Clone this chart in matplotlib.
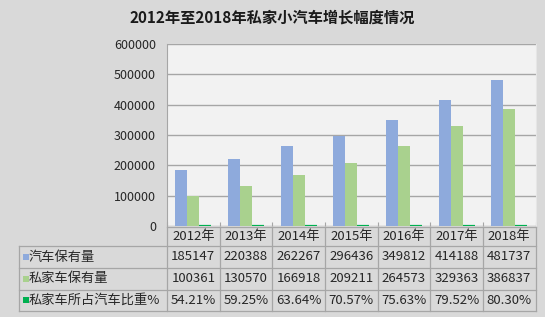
import matplotlib
matplotlib.use("Agg")
import matplotlib.pyplot as plt
import numpy as np
from matplotlib.lines import Line2D
from matplotlib.patches import Rectangle

plt.rcParams['font.family'] = ['Noto Sans CJK SC', 'DejaVu Sans']

title = "2012年至2018年私家小汽车增长幅度情况"
years = ["2012年", "2013年", "2014年", "2015年", "2016年", "2017年", "2018年"]
series_names = ["汽车保有量", "私家车保有量", "私家车所占汽车比重%"]
cars = [185147, 220388, 262267, 296436, 349812, 414188, 481737]
private_cars = [100361, 130570, 166918, 209211, 264573, 329363, 386837]
private_share = [54.21, 59.25, 63.64, 70.57, 75.63, 79.52, 80.30]
yticks = [0, 100000, 200000, 300000, 400000, 500000, 600000]

colors = ["#8eaadc", "#a9d18e", "#00b050"]

W, H = 545, 317
fig = plt.figure(figsize=(W / 100, H / 100), dpi=100)
fig.patch.set_facecolor("#d9d9d9")

def fx(px):
    return px / W

def fy(py):
    return 1 - py / H

ax_l, ax_r, ax_t, ax_b = 167, 535.5, 44, 226
ax = fig.add_axes([fx(ax_l), fy(ax_b), fx(ax_r - ax_l), (ax_b - ax_t) / H])
ax.set_facecolor("#f2f2f2")

n = len(years)
x = np.arange(n)
bw = 0.228
ax.bar(x - bw, cars, width=bw, color=colors[0], zorder=3)
ax.bar(x, private_cars, width=bw, color=colors[1], zorder=3)
ax.bar(x + bw, private_share, width=bw, color=colors[2], edgecolor=colors[2],
       linewidth=1.6, zorder=3)

ax.set_xlim(-0.5, n - 0.5)
ax.set_ylim(0, 600000)
ax.set_yticks(yticks)
ax.set_yticklabels([str(v) for v in yticks], fontsize=9, color="#262626")
ax.tick_params(axis='y', length=0, pad=8)
ax.set_xticks(np.arange(n + 1) - 0.5)
ax.set_xticklabels([])
ax.tick_params(axis='x', direction='in', length=3, color="#a6a6a6")
ax.grid(axis='y', color="#a6a6a6", linewidth=1, zorder=0)
for s in ["top", "bottom"]:
    ax.spines[s].set_visible(False)
ax.spines["left"].set_color("#a6a6a6")
ax.spines["right"].set_color("#e6e6e6")

fig.text(0.5, fy(18), title, ha='center', va='center', fontsize=11,
         fontweight='bold', color="#1a1a1a")

# data table
line_c = "#a6a6a6"
tbl_left = 18.5
col_w = (ax_r - ax_l) / n
rows_y = [226.5, 246, 268, 289.5, 311]

def hline(x0, x1, y):
    fig.add_artist(Line2D([fx(x0), fx(x1)], [fy(y), fy(y)], color=line_c, lw=0.9))

def vline(x0, y0, y1):
    fig.add_artist(Line2D([fx(x0), fx(x0)], [fy(y0), fy(y1)], color=line_c, lw=0.9))

hline(ax_l, ax_r, rows_y[0])
for y in rows_y[1:]:
    hline(tbl_left, ax_r, y)
vline(tbl_left, rows_y[1], rows_y[-1])
for i in range(n + 1):
    vline(ax_l + i * col_w, rows_y[0], rows_y[-1])

txt_c = "#262626"
for i, yr in enumerate(years):
    fig.text(fx(ax_l + (i + 0.5) * col_w), fy((rows_y[0] + rows_y[1]) / 2), yr,
             ha='center', va='center', fontsize=9.5, color=txt_c)

row_vals = [
    [str(v) for v in cars],
    [str(v) for v in private_cars],
    ["%.2f%%" % v for v in private_share],
]
for r in range(3):
    yc = (rows_y[r + 1] + rows_y[r + 2]) / 2
    for i in range(n):
        fig.text(fx(ax_l + (i + 0.5) * col_w), fy(yc), row_vals[r][i],
                 ha='center', va='center', fontsize=9.5, color=txt_c)
    sq = 6
    fig.add_artist(Rectangle((fx(22.5), fy(yc + sq / 2)), fx(sq), sq / H,
                             facecolor=colors[r], edgecolor='none'))
    fig.text(fx(29), fy(yc), series_names[r], ha='left', va='center',
             fontsize=9.5, color=txt_c)

fig.savefig("out.png", dpi=100, facecolor=fig.get_facecolor())
